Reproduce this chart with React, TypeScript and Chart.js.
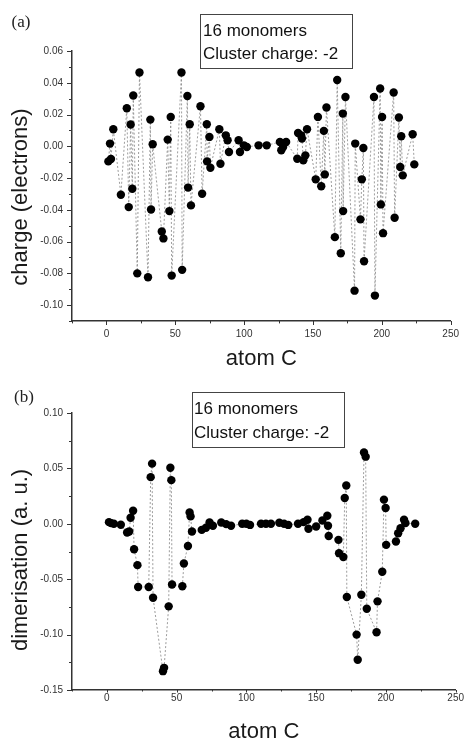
import { useEffect, useRef } from 'react';
import { Chart, registerables } from 'chart.js';

Chart.register(...registerables);

// ---------- data ----------
const chargeAtom = [1.4, 2.6, 3.3, 5, 10.5, 14.8, 16.2, 17.6, 18.8, 19.5, 22.4, 24, 30.2, 31.9, 32.4, 33.6, 40.2, 41.4, 44.5, 45.7, 46.7, 47.4, 54.5, 55, 58.8, 59.3, 60.5, 61.4, 68.3, 69.5, 72.9, 73.1, 74.8, 75.5, 82, 82.8, 86.7, 88, 89, 96, 97, 99.8, 102, 110.5, 116.4, 126, 127, 128.3, 130.5, 138.6, 139.2, 141.4, 142, 143, 144.5, 145.7, 152, 153.6, 156, 157.9, 158.6, 159.8, 165.9, 167.6, 170.2, 171.7, 171.9, 173.6, 180.2, 180.7, 184.5, 185.5, 186.6, 187.1, 194.3, 195, 198.8, 199.3, 200.2, 200.9, 208.6, 209.3, 212.4, 213.4, 214.1, 215.2, 222.4, 223.6];
const chargeValue = [-0.0095, 0.0017, -0.008, 0.0107, -0.0305, 0.024, -0.0383, 0.0137, -0.0267, 0.032, -0.08, 0.0465, -0.0825, 0.0168, -0.0398, 0.0013, -0.0536, -0.058, 0.0042, -0.0408, 0.0185, -0.0814, 0.0465, -0.0778, 0.0317, -0.026, 0.0139, -0.0372, 0.0252, -0.0299, 0.0139, -0.0095, 0.0059, -0.0135, 0.0107, -0.011, 0.0069, 0.0038, -0.0036, 0.0038, -0.0036, 0.0006, -0.0004, 0.0006, 0.0006, 0.0027, -0.0025, -0.0004, 0.0027, -0.0078, 0.0084, 0.0069, 0.0049, -0.0088, -0.0057, 0.0107, -0.0208, 0.0185, -0.0252, 0.0097, -0.0177, 0.0244, -0.0572, 0.0417, -0.0673, 0.0206, -0.0408, 0.031, -0.0909, 0.0017, -0.046, -0.0208, -0.0011, -0.0724, 0.031, -0.094, 0.0364, -0.0366, 0.0185, -0.0547, 0.0339, -0.045, 0.0181, -0.013, 0.0063, -0.0183, 0.0076, -0.0114];

const dimerAtom = [1.5, 3, 5, 10, 14.5, 16, 17, 18.8, 19.5, 21.9, 22.4, 30, 31.4, 32.4, 33.1, 40.2, 41, 44.3, 45.5, 46.2, 46.7, 54.1, 55.2, 58.1, 59.3, 60, 61, 68, 71, 73.6, 76, 82, 85.5, 89, 97, 100, 102.6, 110.5, 114, 117.6, 123.6, 127, 130, 137, 141, 143.8, 144.5, 150, 154.5, 158, 158.5, 159, 166, 166.4, 169.5, 170.5, 171.6, 172, 179, 179.8, 182.4, 184.3, 185.5, 186.3, 193.3, 194, 197.4, 198.6, 199.8, 200.2, 207.2, 208.8, 210.5, 213, 214, 221];
const dimerValue = [0.0015, 0.0006, 0, -0.0009, -0.0079, -0.007, 0.0055, 0.0118, -0.023, -0.0373, -0.057, -0.057, 0.0421, 0.0543, -0.0667, -0.133, -0.13, -0.0745, 0.0506, 0.0394, -0.0548, -0.0564, -0.0358, -0.02, 0.0103, 0.0067, -0.007, -0.0055, -0.0035, 0.0012, -0.0018, 0.0012, -0.0003, -0.0018, 0, 0, -0.001, 0, 0, 0, 0.001, 0, -0.001, 0, 0.0015, 0.0036, -0.0045, -0.0024, 0.003, 0.0073, -0.0018, -0.011, -0.0145, -0.0265, -0.03, 0.0233, 0.0345, -0.066, -0.1, -0.1227, -0.064, 0.0643, 0.0606, -0.0767, -0.0979, -0.07, -0.0433, 0.0218, 0.0143, -0.019, -0.016, -0.0085, -0.004, 0.0036, 0.0006, 0];

const xMajorTicks = [0, 50, 100, 150, 200, 250];
const xMinorTicks = [-25, 25, 75, 125, 175, 225];
const chargeMajorTicks = [0.06, 0.04, 0.02, 0, -0.02, -0.04, -0.06, -0.08, -0.1];
const chargeMinorTicks = [0.05, 0.03, 0.01, -0.01, -0.03, -0.05, -0.07, -0.09, -0.11];
const dimerMajorTicks = [0.1, 0.05, 0, -0.05, -0.1, -0.15];
const dimerMinorTicks = [0.075, 0.025, -0.025, -0.075, -0.125];
const legendLines = ['16 monomers', 'Cluster charge: -2'];
const xTitle = 'atom C';

// ---------- layout ----------
const W = 466;
const H = 370;
const SANS = '"Liberation Sans", Arial, sans-serif';
const SERIF = '"Liberation Serif", "Times New Roman", serif';

type Panel = {
  tag: string;
  xs: number[];
  ys: number[];
  yMin: number;
  yMax: number;
  yMajor: number[];
  yMinor: number[];
  yTitle: string;
  top: number;
  areaTop: number;
  areaBottom: number;
  yTitleY: number;
  xTitleY: number;
  xLabelPad: number;
  xTickLen: number;
  tagX: number;
  tagY: number;
  box: { x: number; y: number; w: number; h: number; tx: number; l1: number; l2: number };
};

const panels: Panel[] = [
  {
    tag: '(a)', xs: chargeAtom, ys: chargeValue, yMin: -0.11, yMax: 0.06,
    yMajor: chargeMajorTicks, yMinor: chargeMinorTicks, yTitle: 'charge (electrons)',
    top: 0, areaTop: 51, areaBottom: 321, yTitleY: 197, xTitleY: 359, xLabelPad: 7, xTickLen: 4,
    tagX: 21, tagY: 23,
    box: { x: 200, y: 14, w: 152, h: 54, tx: 203, l1: 31, l2: 54 },
  },
  {
    tag: '(b)', xs: dimerAtom, ys: dimerValue, yMin: -0.15, yMax: 0.1,
    yMajor: dimerMajorTicks, yMinor: dimerMinorTicks, yTitle: 'dimerisation (a. u.)',
    top: 370, areaTop: 43, areaBottom: 320, yTitleY: 190, xTitleY: 362, xLabelPad: 2, xTickLen: 2.5,
    tagX: 24, tagY: 28,
    box: { x: 192, y: 22, w: 152, h: 55, tx: 194, l1: 39, l2: 63 },
  },
];

function makeDecor(p: Panel) {
  return {
    id: 'decor' + p.tag,
    afterDraw(chart: any) {
      const ctx = chart.ctx as CanvasRenderingContext2D;
      const sx = chart.scales.x;
      const sy = chart.scales.y;
      const { left, bottom, right } = chart.chartArea;
      ctx.save();
      // tick marks
      ctx.strokeStyle = '#333';
      ctx.lineWidth = 1;
      ctx.beginPath();
      xMajorTicks.forEach((v) => {
        const px = Math.round(sx.getPixelForValue(v)) + 0.5;
        ctx.moveTo(px, bottom);
        ctx.lineTo(px, bottom + p.xTickLen);
      });
      xMinorTicks.forEach((v) => {
        const px = Math.round(sx.getPixelForValue(v)) + 0.5;
        ctx.moveTo(px, bottom);
        ctx.lineTo(px, bottom + p.xTickLen * 0.6);
      });
      p.yMajor.forEach((v) => {
        const py = Math.round(sy.getPixelForValue(v)) + 0.5;
        ctx.moveTo(left, py);
        ctx.lineTo(left - 5, py);
      });
      p.yMinor.forEach((v) => {
        const py = Math.round(sy.getPixelForValue(v)) + 0.5;
        ctx.moveTo(left, py);
        ctx.lineTo(left - 3, py);
      });
      ctx.stroke();

      // axis titles
      ctx.fillStyle = '#1a1a1a';
      ctx.font = '22px ' + SANS;
      ctx.textAlign = 'center';
      ctx.textBaseline = 'middle';
      ctx.fillText(xTitle, (left + right) / 2, p.xTitleY);
      ctx.save();
      ctx.translate(21, p.yTitleY);
      ctx.rotate(-Math.PI / 2);
      ctx.fillText(p.yTitle, 0, 0);
      ctx.restore();

      // panel tag
      ctx.font = '17px ' + SERIF;
      ctx.fillStyle = '#222';
      ctx.fillText(p.tag, p.tagX, p.tagY);

      // legend box
      const b = p.box;
      ctx.strokeStyle = '#444';
      ctx.lineWidth = 1;
      ctx.strokeRect(b.x + 0.5, b.y + 0.5, b.w, b.h);
      ctx.font = '17px ' + SANS;
      ctx.fillStyle = '#111';
      ctx.textAlign = 'left';
      ctx.fillText(legendLines[0], b.tx, b.l1);
      ctx.fillText(legendLines[1], b.tx, b.l2);
      ctx.restore();
    },
  };
}

function PanelChart({ p }: { p: Panel }) {
  const ref = useRef<HTMLCanvasElement | null>(null);
  useEffect(() => {
    if (!ref.current) return;
    const chart = new Chart(ref.current, {
      type: 'scatter',
      data: {
        datasets: [
          {
            data: p.xs.map((x, i) => ({ x, y: p.ys[i] })),
            showLine: true,
            borderColor: 'rgba(140,140,140,0.85)',
            borderWidth: 1,
            borderDash: [2, 2],
            pointRadius: 4.2,
            pointBackgroundColor: '#000',
            pointBorderColor: '#000',
            pointBorderWidth: 0,
            tension: 0,
          },
        ],
      },
      options: {
        animation: false,
        responsive: false,
        events: [],
        layout: { padding: { left: 0, right: W - 457, top: p.areaTop, bottom: 0 } },
        plugins: { legend: { display: false }, tooltip: { enabled: false }, title: { display: false } },
        scales: {
          x: {
            type: 'linear',
            min: -25,
            max: 250,
            grid: { display: false, drawTicks: false },
            border: { display: true, color: '#333', width: 1.5 },
            afterBuildTicks: (s: any) => {
              s.ticks = xMajorTicks.map((v) => ({ value: v }));
            },
            afterFit: (s: any) => {
              s.height = H - p.areaBottom;
            },
            ticks: {
              padding: p.xLabelPad,
              maxRotation: 0,
              autoSkip: false,
              color: '#333',
              font: { family: SANS, size: 10 },
              callback: (v: any) => String(v),
            },
          },
          y: {
            type: 'linear',
            min: p.yMin,
            max: p.yMax,
            grid: { display: false, drawTicks: false },
            border: { display: true, color: '#333', width: 1.5 },
            afterBuildTicks: (s: any) => {
              s.ticks = p.yMajor.map((v) => ({ value: v }));
            },
            afterFit: (s: any) => {
              s.width = 72;
            },
            ticks: {
              padding: 9,
              autoSkip: false,
              color: '#333',
              font: { family: SANS, size: 10 },
              callback: (v: any) => Number(v).toFixed(2),
            },
          },
        },
      },
      plugins: [makeDecor(p)],
    });
    return () => chart.destroy();
  }, [p]);
  return (
    <div style={{ position: 'absolute', left: 0, top: p.top, width: W, height: H }}>
      <canvas ref={ref} width={W} height={H} style={{ display: 'block', width: W, height: H }} />
    </div>
  );
}

export default function App() {
  return (
    <div style={{ position: 'fixed', left: 0, top: 0, width: W, height: 740, background: '#fff', overflow: 'hidden' }}>
      {panels.map((p) => (
        <PanelChart key={p.tag} p={p} />
      ))}
    </div>
  );
}
